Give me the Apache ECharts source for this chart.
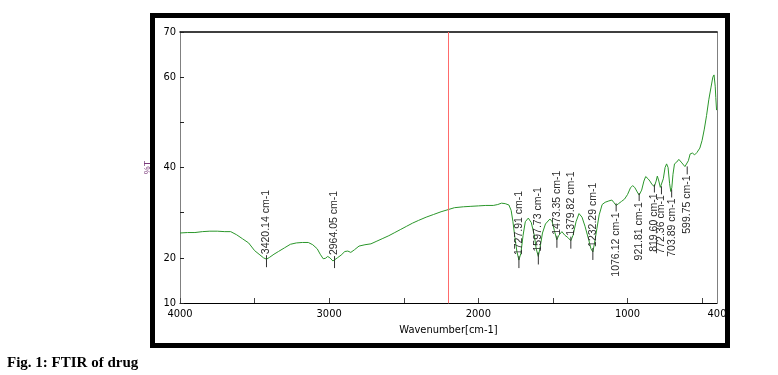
<!DOCTYPE html>
<html>
<head>
<meta charset="utf-8">
<script src="https://cdn.jsdelivr.net/npm/echarts@6/dist/echarts.min.js"></script>
<style>
html, body { margin: 0; padding: 0; background: #fff; }
#chart { width: 778px; height: 375px; }
</style>
</head>
<body>
<div id="chart"></div>
<script>
// FTIR spectrum: [wavenumber cm-1, %T]
const spectrum = [
    [4000, 25.5], [3950, 25.6], [3900, 25.6], [3850, 25.8], [3800, 25.9], [3750, 25.9],
    [3700, 25.8], [3660, 25.8], [3620, 25.1], [3580, 24.2], [3540, 23.3], [3500, 21.6],
    [3470, 20.8], [3440, 20.0], [3420, 19.7], [3400, 20.1], [3370, 20.8], [3340, 21.4],
    [3300, 22.2], [3260, 23.0], [3220, 23.3], [3180, 23.4], [3140, 23.4], [3110, 22.9],
    [3080, 22.0], [3060, 20.8], [3040, 19.8], [3025, 19.9], [3010, 20.3], [2995, 20.0],
    [2975, 19.3], [2964, 19.5], [2945, 20.0], [2920, 20.6], [2895, 21.4], [2875, 21.5],
    [2855, 21.2], [2830, 21.8], [2800, 22.6], [2760, 22.9], [2720, 23.1], [2680, 23.7],
    [2640, 24.3], [2600, 24.9], [2560, 25.6], [2520, 26.3], [2480, 27.0], [2440, 27.7],
    [2400, 28.3], [2350, 29.0], [2300, 29.6], [2250, 30.2], [2200, 30.7], [2160, 31.1],
    [2100, 31.3], [2050, 31.4], [2000, 31.5], [1950, 31.6], [1900, 31.6], [1870, 31.8],
    [1845, 32.1], [1820, 32.0], [1795, 31.7], [1780, 30.5], [1768, 28.0], [1755, 24.5],
    [1742, 21.5], [1728, 19.5], [1715, 21.0], [1700, 25.0], [1685, 28.0], [1665, 28.8],
    [1645, 27.8], [1625, 25.0], [1612, 22.0], [1598, 20.3], [1585, 22.5], [1570, 25.5],
    [1550, 27.5], [1520, 28.6], [1505, 28.0], [1490, 26.0], [1474, 24.0], [1460, 25.0],
    [1440, 25.8], [1420, 25.0], [1400, 24.5], [1380, 23.8], [1365, 25.0], [1345, 28.0],
    [1325, 29.8], [1305, 29.0], [1285, 27.0], [1260, 24.0], [1245, 22.0], [1232, 21.3],
    [1220, 23.5], [1205, 26.5], [1190, 29.5], [1170, 31.8], [1150, 32.3], [1125, 32.6],
    [1105, 32.8], [1090, 32.2], [1076, 31.6], [1060, 32.0], [1040, 32.5], [1020, 33.0],
    [1000, 34.0], [980, 35.5], [965, 36.0], [950, 35.5], [935, 34.6], [922, 33.9],
    [905, 35.0], [890, 37.0], [878, 38.0], [862, 37.5], [850, 37.0], [835, 36.2],
    [820, 35.8], [808, 37.0], [800, 38.1], [790, 37.0], [780, 35.6], [772, 35.4],
    [760, 37.5], [748, 40.0], [738, 40.8], [728, 40.0], [718, 36.5], [710, 34.7],
    [703, 35.5], [695, 38.5], [685, 40.8], [670, 41.2], [656, 41.8], [640, 41.2],
    [630, 40.8], [615, 40.2], [605, 39.8], [592, 41.5], [580, 43.0], [565, 43.2],
    [550, 42.8], [535, 43.3], [515, 44.3], [500, 46.0], [485, 48.5], [470, 51.5],
    [455, 55.0], [440, 57.8], [428, 60.0], [420, 60.5], [412, 58.0], [408, 55.5],
    [403, 52.7]
];

// labelled peaks
const peakWave = [3420.14, 2964.05, 1727.91, 1597.73, 1473.35, 1379.82, 1232.29,
    1076.12, 921.81, 819.60, 772.36, 703.89, 599.75];
const peakT = [19.7, 19.5, 19.5, 20.3, 24.0, 23.8, 21.3,
    31.6, 33.9, 35.8, 35.4, 34.7, 39.8];
// label above (1) or below (-1) the peak
const peakSide = [1, 1, 1, 1, 1, 1, 1, -1, -1, -1, -1, -1, -1];

const markerWave = [2200];

const xTicks = [4000, 3500, 3000, 2500, 2000, 1500, 1000, 500];
const xLabels = [4000, 3000, 2000, 1000, 400];
const yTicks = [10, 20, 30, 40, 50, 60, 70];
const yLabels = [10, 20, 40, 60, 70];

const tickFont = '"Liberation Sans Narrow", "DejaVu Sans Condensed", sans-serif';

const chart = echarts.init(document.getElementById('chart'));

const option = {
    animation: false,
    title: {
        text: 'Fig. 1: FTIR of drug',
        left: 2,
        top: 351,
        textStyle: {
            fontFamily: '"Liberation Serif", serif',
            fontWeight: 'bold',
            fontSize: 15,
            color: '#000'
        }
    },
    graphic: [
        {
            type: 'rect',
            shape: { x: 152.5, y: 15.5, width: 575, height: 330 },
            style: { fill: null, stroke: '#000', lineWidth: 5 },
            silent: true
        }
    ],
    grid: {
        left: 180,
        right: 61,
        top: 32,
        bottom: 72
    },
    xAxis: [
        {
            type: 'value',
            min: 400,
            max: 4000,
            inverse: true,
            position: 'bottom',
            name: 'Wavenumber[cm-1]',
            nameLocation: 'middle',
            nameGap: 22,
            nameTextStyle: { fontFamily: tickFont, fontSize: 11, color: '#000' },
            axisLine: { show: true, lineStyle: { color: '#000', width: 1 } },
            axisTick: { show: true, inside: true, length: 5, customValues: xTicks, lineStyle: { color: '#444' } },
            axisLabel: {
                customValues: xLabels,
                formatter: v => String(v),
                fontFamily: tickFont,
                fontSize: 11,
                color: '#000',
                margin: 6
            },
            splitLine: { show: false }
        },
        {
            type: 'value',
            min: 400,
            max: 4000,
            inverse: true,
            position: 'top',
            axisLine: { show: true, lineStyle: { color: '#000', width: 1.5 } },
            axisTick: { show: false },
            axisLabel: { show: false },
            splitLine: { show: false }
        }
    ],
    yAxis: [
        {
            type: 'value',
            min: 10,
            max: 70,
            position: 'left',
            name: '%T',
            nameLocation: 'middle',
            nameRotate: 90,
            nameGap: 16,
            nameTextStyle: { fontFamily: 'Arial, sans-serif', fontSize: 9, color: '#7a3a7a' },
            axisLine: { show: true, lineStyle: { color: '#808080', width: 1 } },
            axisTick: { show: true, inside: true, length: 4, customValues: yTicks, lineStyle: { color: '#222' } },
            axisLabel: { customValues: yLabels, fontFamily: tickFont, fontSize: 11, color: '#000', margin: 4 },
            splitLine: { show: false }
        },
        {
            type: 'value',
            min: 10,
            max: 70,
            position: 'right',
            axisLine: { show: true, lineStyle: { color: '#808080', width: 1 } },
            axisTick: { show: false },
            axisLabel: { show: false },
            splitLine: { show: false }
        }
    ],
    series: [
        {
            name: 'FTIR',
            type: 'line',
            data: spectrum,
            showSymbol: false,
            lineStyle: { color: '#2a962a', width: 1 },
            markLine: {
                silent: true,
                symbol: 'none',
                label: { show: false },
                lineStyle: { color: '#ff6b6b', type: 'solid', width: 1 },
                data: markerWave.map(w => ({ xAxis: w }))
            },
            z: 3
        },
        {
            name: 'peaks',
            type: 'custom',
            coordinateSystem: 'cartesian2d',
            clip: false,
            data: peakWave.map((w, i) => [w, peakT[i], i]),
            encode: { x: 0, y: 1 },
            renderItem: function (params, api) {
                const p = api.coord([api.value(0), api.value(1)]);
                const i = api.value(2);
                const side = peakSide[i];
                const text = peakWave[i].toFixed(2) + ' cm-1';
                let line, anchorY, align;
                if (side > 0) {
                    line = { x1: p[0], y1: p[1] + 8, x2: p[0], y2: p[1] - 4 };
                    anchorY = p[1] - 5;
                    align = 'left';
                } else {
                    line = { x1: p[0], y1: p[1] - 2, x2: p[0], y2: p[1] + 6 };
                    anchorY = p[1] + 7;
                    align = 'right';
                }
                return {
                    type: 'group',
                    children: [
                        {
                            type: 'line',
                            shape: line,
                            style: { stroke: '#333', lineWidth: 1 }
                        },
                        {
                            type: 'text',
                            x: p[0],
                            y: anchorY,
                            rotation: Math.PI / 2,
                            style: {
                                text: text,
                                x: 0,
                                y: 0,
                                align: align,
                                verticalAlign: 'middle',
                                fill: '#2a2a2a',
                                font: '10.5px "Liberation Sans", Arial, sans-serif'
                            }
                        }
                    ]
                };
            },
            z: 4
        }
    ]
};

chart.setOption(option);
</script>
</body>
</html>
